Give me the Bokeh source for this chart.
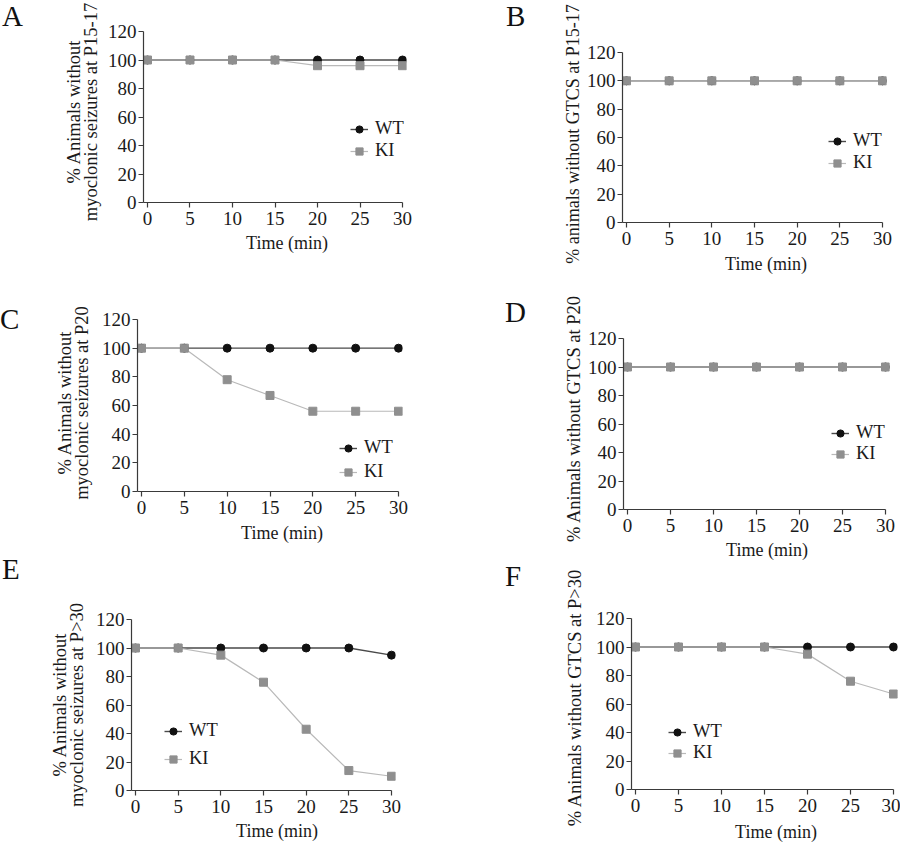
from bokeh.plotting import figure
from bokeh.models import Range1d, Legend, LegendItem, FixedTicker, Div
from bokeh.layouts import column, row
from bokeh.embed import file_html
from bokeh.resources import INLINE

# ---------------- data ----------------
time_min = [0, 5, 10, 15, 20, 25, 30]
time_ticks = [0, 5, 10, 15, 20, 25, 30]
pct_ticks = [0, 20, 40, 60, 80, 100, 120]

a_wt = [100, 100, 100, 100, 100, 100, 100]
a_ki = [100, 100, 100, 100, 96, 96, 96]
b_wt = [100, 100, 100, 100, 100, 100, 100]
b_ki = [100, 100, 100, 100, 100, 100, 100]
c_wt = [100, 100, 100, 100, 100, 100, 100]
c_ki = [100, 100, 78, 67, 56, 56, 56]
d_wt = [100, 100, 100, 100, 100, 100, 100]
d_ki = [100, 100, 100, 100, 100, 100, 100]
e_wt = [100, 100, 100, 100, 100, 100, 95]
e_ki = [100, 100, 95, 76, 43, 14, 10]
f_wt = [100, 100, 100, 100, 100, 100, 100]
f_ki = [100, 100, 100, 100, 95, 76, 67]

panel_letters = ["A", "B", "C", "D", "E", "F"]
y_titles = [
    "% Animals without\nmyoclonic seizures at P15-17",
    "% animals without GTCS at P15-17",
    "% Animals without\nmyoclonic seizures at P20",
    "% Animals without GTCS at P20",
    "% Animals without\nmyoclonic seizures at P>30",
    "% Animals without GTCS at P>30",
]
x_title = "Time (min)"
series_names = ["WT", "KI"]

# ---------------- style / layout ----------------
FONT = "Liberation Serif"
WT_COL = "#111111"
WT_LINE = "#4a4a4a"
KI_COL = "#8f8f8f"
KI_LINE = "#b9b9b9"
AXIS_COL = "#3a3a3a"
TEXT_COL = "#1a1a1a"
TICK_FS = 19
XT_FS = 18
YT_LH = 16.5

# page regions: (column left, figure left, column right, top, bottom)
regions = [
    (0, 104, 470, 0, 285), (470, 583, 900, 0, 285),
    (0, 97, 470, 285, 553), (470, 584, 900, 285, 560),
    (0, 91, 470, 553, 843), (470, 590, 900, 560, 843),
]
# axis geometry in page px: x=0, x=30, y=120, y=0
geoms = [
    (144.0, 400.0, 31.0, 201.7),
    (622.7, 880.0, 51.7, 222.0),
    (138.7, 395.7, 319.3, 490.7),
    (625.0, 882.7, 338.3, 509.3),
    (133.3, 389.3, 618.7, 790.0),
    (632.7, 890.7, 618.3, 789.3),
]
# legend: glyph centre x, first row centre y, row pitch
legends = [
    (358, 130, 21), (836, 142, 21), (348, 449, 23),
    (840, 434, 20), (173, 732, 27), (677, 733, 20),
]
# panel letter: left x, cap-top y
letters_pos = [(2, 6.6), (506, 6.6), (0, 310), (505, 303), (2, 560), (505, 566.6)]
# y title: first-line baseline x, centre y, font px, box length
ytitle_pos = [(80, 112, 18.5, 224), (579, 134, 18, 262), (71, 403, 18.5, 200),
              (580, 419, 18.5, 252), (66.5, 705, 18.5, 210), (581, 698, 18.5, 262)]
# x title: centre x, cap-top y
xtitle_pos = [(287, 237), (766, 258), (282, 527), (767, 544.5), (277, 825), (776, 826)]

wt_sets = [a_wt, b_wt, c_wt, d_wt, e_wt, f_wt]
ki_sets = [a_ki, b_ki, c_ki, d_ki, e_ki, f_ki]

FF = "font-family:'Liberation Serif',serif;"


def esc(s):
    return s.replace("&", "&amp;").replace("<", "&lt;").replace(">", "&gt;")


def frame_of(i):
    x0, x30, y120, y0 = geoms[i]
    fl = int(round(x0 - 2))
    fw = int(round(x30 - x0)) + 8
    ft, fb = int(round(y120)), int(round(y0))
    return fl, fl + fw, ft, fb


def fig_bottom(i):
    fb = frame_of(i)[3]
    cap = xtitle_pos[i][1]
    return fb + min(34, int(cap - 4.2 - fb))


def make_panel(i):
    _, bl, br, bt, _ = regions[i]
    fl, fr, ft, fb = frame_of(i)
    scale = (fr - fl - 8) / 30.0
    xs = -4.0 / scale
    xe = 30 + 4.0 / scale
    fbot = fig_bottom(i)

    p = figure(width=br - bl, height=fbot - bt, title=None,
               x_range=Range1d(xs, xe), y_range=Range1d(0, 120),
               output_backend="svg", toolbar_location=None,
               min_border_left=fl - bl, min_border_right=br - fr,
               min_border_top=ft - bt, min_border_bottom=fbot - fb)
    p.outline_line_color = None
    p.grid.visible = False

    xa = p.xaxis[0]
    ya = p.yaxis[0]
    xa.ticker = FixedTicker(ticks=time_ticks)
    ya.ticker = FixedTicker(ticks=pct_ticks)
    xa.bounds = (xs, 30)
    ya.bounds = (0, 120)
    for ax in (xa, ya):
        ax.axis_line_color = AXIS_COL
        ax.axis_line_width = 1.2
        ax.major_tick_line_color = AXIS_COL
        ax.major_tick_line_width = 1.2
        ax.major_tick_out = 5
        ax.major_tick_in = 0
        ax.minor_tick_line_color = None
        ax.major_label_text_font = FONT
        ax.major_label_text_font_size = "%dpx" % TICK_FS
        ax.major_label_text_color = TEXT_COL
    xa.major_label_standoff = 4
    ya.major_label_standoff = 2

    wl = p.line(time_min, wt_sets[i], line_color=WT_LINE, line_width=1.4)
    ws = p.scatter(time_min, wt_sets[i], marker="circle", size=8,
                   fill_color=WT_COL, line_color=WT_COL)
    kl = p.line(time_min, ki_sets[i], line_color=KI_LINE, line_width=1.2)
    ks = p.scatter(time_min, ki_sets[i], marker="square", size=8,
                   fill_color=KI_COL, line_color=KI_COL)

    gx, gy, pitch = legends[i]
    gh = 20
    gw = 18
    top = gy - gh / 2.0
    height = 2 * gh + (pitch - gh)
    leg = Legend(items=[LegendItem(label=series_names[0], renderers=[wl, ws]),
                        LegendItem(label=series_names[1], renderers=[kl, ks])],
                 location=((gx - gw / 2.0) - fl, fb - (top + height)),
                 padding=0, margin=0, spacing=pitch - gh,
                 glyph_width=gw, glyph_height=gh, label_height=gh,
                 label_standoff=7, border_line_color=None,
                 background_fill_alpha=0,
                 label_text_font=FONT, label_text_font_size="18.5px",
                 label_text_color=TEXT_COL)
    p.add_layout(leg)
    return p


def make_side(i):
    cl, fl, _, bt, bb = regions[i]
    w, h = fl - cl, bb - bt
    lx, ly = letters_pos[i]
    bx, cy, fs, box_w = ytitle_pos[i]
    base_off = (YT_LH - 1.107 * fs) / 2.0 + 0.891 * fs
    left = bx - cl - base_off
    top = cy - bt + box_w / 2.0
    lines = "<br>".join(esc(s) for s in y_titles[i].split("\n"))
    # 29px letter with 32px line box: cap top sits 6.6px below the box top
    html = (
        '<div style="position:relative;width:%dpx;height:%dpx;overflow:hidden">'
        '<div style="position:absolute;left:%.1fpx;top:%.1fpx;%sfont-size:29px;'
        'line-height:32px;color:#111;white-space:nowrap">%s</div>'
        '<div style="position:absolute;left:%.1fpx;top:%.1fpx;width:%dpx;%s'
        'font-size:%.1fpx;line-height:%.1fpx;text-align:center;white-space:nowrap;'
        'color:%s;transform-origin:0 0;transform:rotate(-90deg)">%s</div>'
        '</div>'
        % (w, h, lx - cl, ly - bt - 6.6, FF, panel_letters[i],
           left, top, box_w, FF, fs, YT_LH, TEXT_COL, lines))
    return Div(text=html, width=w, height=h, margin=0)


def make_bottom(i):
    _, bl, br, _, bb = regions[i]
    fbot = fig_bottom(i)
    w, h = br - bl, bb - fbot
    cx, cap = xtitle_pos[i]
    # 18px text in a 20px line box: cap top is 4.16px below the box top
    html = (
        '<div style="position:relative;width:%dpx;height:%dpx;overflow:hidden">'
        '<div style="position:absolute;left:%.1fpx;top:%.1fpx;width:120px;%s'
        'font-size:%dpx;line-height:20px;text-align:center;white-space:nowrap;'
        'color:%s">%s</div></div>'
        % (w, h, cx - bl - 60, cap - fbot - 4.16, FF, XT_FS, TEXT_COL, esc(x_title)))
    return Div(text=html, width=w, height=h, margin=0)


blocks = [row(make_side(i), column(make_panel(i), make_bottom(i))) for i in range(6)]
layout = row(column(blocks[0], blocks[2], blocks[4]),
             column(blocks[1], blocks[3], blocks[5]))

open("out.html", "w").write(file_html(layout, INLINE))
